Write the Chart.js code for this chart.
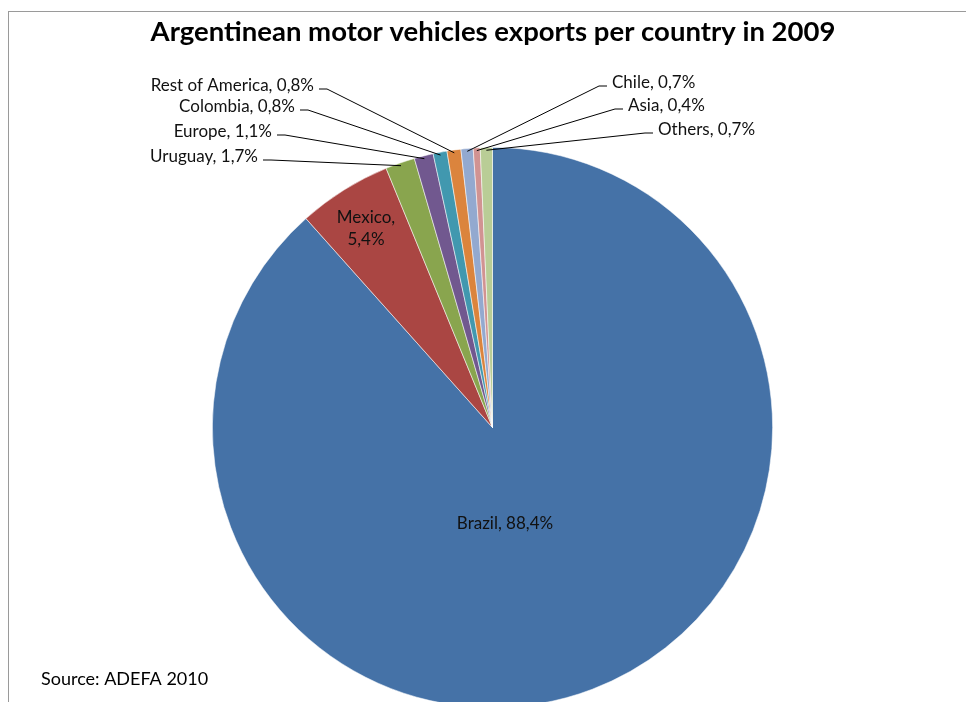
<!DOCTYPE html>
<html>
<head>
<meta charset="utf-8">
<script src="https://cdn.jsdelivr.net/npm/chart.js@4.4.1/dist/chart.umd.min.js"></script>
<style>
  html, body { margin: 0; padding: 0; background: #fff; overflow: hidden; width: 966px; height: 702px; }
  #wrap { position: absolute; left: 0; top: 0; width: 966px; height: 720px; }
  #frame { position: absolute; left: 8px; top: 11px; right: -4px; bottom: -4px;
           border-left: 1.5px solid #9a9a9a; border-top: 1.5px solid #9a9a9a; }
</style>
</head>
<body>
<div id="frame"></div>
<div id="wrap"><canvas id="c" width="966" height="720"></canvas></div>
<script>
// Export destinations and their share of 2009 motor vehicle exports (%)
const countries = ['Brazil', 'Mexico', 'Uruguay', 'Europe', 'Colombia', 'Rest of America', 'Chile', 'Asia', 'Others'];
const shares = [88.4, 5.4, 1.7, 1.1, 0.8, 0.8, 0.7, 0.4, 0.7];
const sliceColors = ['#4572A7', '#AA4643', '#89A54E', '#71588F', '#4198AF', '#DB843D', '#93A9CF', '#D19392', '#B9CD96'];

const chartTitle = 'Argentinean motor vehicles exports per country in 2009';
const sourceNote = 'Source: ADEFA 2010';

const FONT = 'Lato, "Open Sans", sans-serif';

// Where each label sits: inside labels are centred, outside labels get a leader line
const labelLayout = {
  'Brazil':          { inside: true, x: 505, y: 524 },
  'Mexico':          { inside: true, x: 366, y: 229, wrap: true },
  'Uruguay':         { side: 'left',  x: 258, y: 157 },
  'Europe':          { side: 'left',  x: 272, y: 132 },
  'Colombia':        { side: 'left',  x: 295, y: 107 },
  'Rest of America': { side: 'left',  x: 314, y: 86 },
  'Chile':           { side: 'right', x: 612, y: 83 },
  'Asia':            { side: 'right', x: 628, y: 106 },
  'Others':          { side: 'right', x: 658, y: 130 }
};

const fmt = v => v.toFixed(1).replace('.', ',') + '%';

const labelPlugin = {
  id: 'sliceLabels',
  afterDatasetsDraw(chart) {
    const ctx = chart.ctx;
    const meta = chart.getDatasetMeta(0);
    ctx.save();

    // title
    ctx.fillStyle = '#000';
    ctx.font = 'bold 27.5px ' + FONT;
    ctx.textAlign = 'center';
    ctx.textBaseline = 'middle';
    ctx.fillText(chartTitle, 493, 32);

    // source note
    ctx.font = '18px ' + FONT;
    ctx.textAlign = 'left';
    ctx.fillText(sourceNote, 41, 679);

    ctx.font = '17px ' + FONT;
    meta.data.forEach((arc, i) => {
      const name = countries[i];
      const spot = labelLayout[name];
      const text = name + ', ' + fmt(shares[i]);
      ctx.fillStyle = '#111';
      if (spot.inside) {
        ctx.textAlign = 'center';
        ctx.textBaseline = 'middle';
        if (spot.wrap) {
          ctx.fillText(name + ',', spot.x, spot.y - 11);
          ctx.fillText(fmt(shares[i]), spot.x, spot.y + 11);
        } else {
          ctx.fillText(text, spot.x, spot.y);
        }
        return;
      }
      const p = arc.getProps(['x', 'y', 'startAngle', 'endAngle', 'outerRadius'], true);
      const mid = (p.startAngle + p.endAngle) / 2;
      const ex = p.x + Math.cos(mid) * p.outerRadius * 0.99;
      const ey = p.y + Math.sin(mid) * p.outerRadius * 0.99;
      const dir = spot.side === 'left' ? 1 : -1;
      const lx = spot.x + dir * 5;
      const ly = spot.y + 3;
      ctx.strokeStyle = '#000';
      ctx.lineWidth = 1;
      ctx.beginPath();
      ctx.moveTo(lx, ly);
      ctx.lineTo(lx + dir * 8, ly);
      ctx.lineTo(ex, ey);
      ctx.stroke();
      ctx.textBaseline = 'middle';
      ctx.textAlign = spot.side === 'left' ? 'right' : 'left';
      ctx.fillText(text, spot.x, spot.y);
    });
    ctx.restore();
  }
};

new Chart(document.getElementById('c'), {
  type: 'pie',
  data: {
    labels: countries,
    datasets: [{
      data: shares,
      backgroundColor: sliceColors,
      borderColor: 'rgba(255,255,255,0.7)',
      borderWidth: 0.75
    }]
  },
  options: {
    responsive: false,
    animation: false,
    layout: { padding: { left: 212, right: 193, top: 147, bottom: 12 } },
    plugins: {
      legend: { display: false },
      tooltip: { enabled: false },
      title: { display: false }
    }
  },
  plugins: [labelPlugin]
});
</script>
</body>
</html>
